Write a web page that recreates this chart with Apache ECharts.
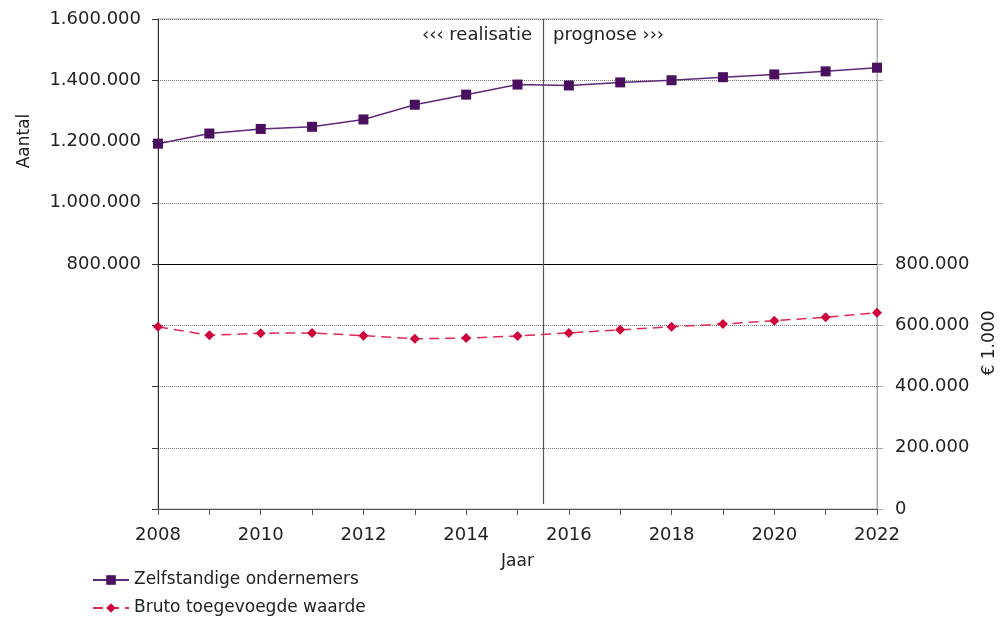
<!DOCTYPE html>
<html>
<head>
<meta charset="utf-8">
<script src="https://cdn.jsdelivr.net/npm/echarts@6/dist/echarts.min.js"></script>
<style>
html,body{margin:0;padding:0;background:#fff;}
#chart{width:1005px;height:620px;}
</style>
</head>
<body>
<div id="chart"></div>
<script>
const years = [2008,2009,2010,2011,2012,2013,2014,2015,2016,2017,2018,2019,2020,2021,2022];
const zelfstandigen = [1193000,1226000,1241000,1248000,1272000,1320000,1353000,1386000,1383000,1393000,1400000,1410000,1419000,1429000,1441000];
const brutoToegevoegd = [595000,567000,574000,575000,566000,556000,558000,565000,575000,585000,595000,604000,615000,626000,641000];
const seriesNames = ['Zelfstandige ondernemers','Bruto toegevoegde waarde'];
const splitYear = 2015.5;
const splitLevel = 800000;
const annotations = ['\u2039\u2039\u2039 realisatie','prognose \u203a\u203a\u203a'];
const axisTitles = {x:'Jaar', left:'Aantal', right:'\u20ac 1.000'};

const FONT = 'DejaVu Sans';
function fmt(v){ return String(v).replace(/\B(?=(\d{3})+(?!\d))/g,'.'); }

const chart = echarts.init(document.getElementById('chart'));
chart.setOption({
  animation:false,
  textStyle:{fontFamily:FONT},
  grid:{left:158,right:128,top:19,bottom:111,show:true,borderColor:'#a8a8a8',borderWidth:1},
  legend:{
    orient:'vertical',left:92,top:570,itemWidth:36,itemHeight:12,itemGap:8,padding:0,
    height:60,
    textStyle:{fontFamily:FONT,fontSize:17,color:'#222',lineHeight:20},
    data:seriesNames
  },
  xAxis:{
    type:'value',min:2008,max:2022,interval:1,
    name:axisTitles.x,nameLocation:'middle',nameGap:44,
    nameTextStyle:{fontFamily:FONT,fontSize:17,color:'#222'},
    axisLine:{lineStyle:{color:'#555'}},
    axisTick:{show:true,length:6,lineStyle:{color:'#555'}},
    axisLabel:{fontFamily:FONT,fontSize:18,color:'#222',margin:17,
      formatter:v=> (v%2===0 ? String(v) : '')},
    splitLine:{show:false}
  },
  yAxis:[
    {type:'value',position:'left',min:0,max:1600000,interval:200000,
     axisLine:{show:true,lineStyle:{color:'#333'}},
     axisTick:{show:true,length:6,lineStyle:{color:'#333'}},
     axisLabel:{fontFamily:FONT,fontSize:18,color:'#222',margin:17,
       formatter:v=> (v>=800000 ? fmt(v) : '')},
     splitLine:{show:true,lineStyle:{color:'#777',type:'dotted',width:1}}},
    {type:'value',position:'right',min:0,max:1600000,interval:200000,
     axisLine:{show:true,lineStyle:{color:'#a8a8a8'}},
     axisTick:{show:true,length:6,lineStyle:{color:'#a8a8a8'}},
     axisLabel:{fontFamily:FONT,fontSize:18,color:'#222',margin:18,
       formatter:v=> (v<=800000 ? fmt(v) : '')},
     splitLine:{show:false}}
  ],
  graphic:[
    {type:'text',right:1005-532,top:26,style:{text:annotations[0],font:'18px "DejaVu Sans"',fill:'#222'}},
    {type:'text',left:553,top:26,style:{text:annotations[1],font:'18px "DejaVu Sans"',fill:'#222'}},
    {type:'text',x:25,y:141,rotation:Math.PI/2,style:{text:axisTitles.left,font:'17px "DejaVu Sans"',fill:'#222',align:'center',verticalAlign:'middle'}},
    {type:'text',x:990,y:343,rotation:Math.PI/2,style:{text:axisTitles.right,font:'17px "DejaVu Sans"',fill:'#222',align:'center',verticalAlign:'middle'}}
  ],
  series:[
    {name:seriesNames[0],type:'line',yAxisIndex:0,
     data:years.map((y,i)=>[y,zelfstandigen[i]]),
     symbol:'rect',symbolSize:10,
     itemStyle:{color:'#4a0f5e'},
     lineStyle:{color:'#5e2a78',width:1.5},
     z:5,
     markLine:{silent:true,symbol:'none',label:{show:false},
       data:[
         [{coord:[2008,splitLevel]},{coord:[2022,splitLevel]}]
       ],
       lineStyle:{color:'#000',type:'solid',width:1.2}}
    },
    {name:seriesNames[1],type:'line',yAxisIndex:1,
     data:years.map((y,i)=>[y,brutoToegevoegd[i]]),
     symbol:'diamond',symbolSize:10,
     itemStyle:{color:'#d1003a'},
     lineStyle:{color:'#dd2a55',width:1.5,type:[10,6]},
     z:5,
     markLine:{silent:true,symbol:'none',label:{show:false},
       data:[
         [{coord:[splitYear,1600000]},{coord:[splitYear,16000]}]
       ],
       lineStyle:{color:'#555',type:'solid',width:1.2}}
    }
  ]
});
</script>
</body>
</html>
